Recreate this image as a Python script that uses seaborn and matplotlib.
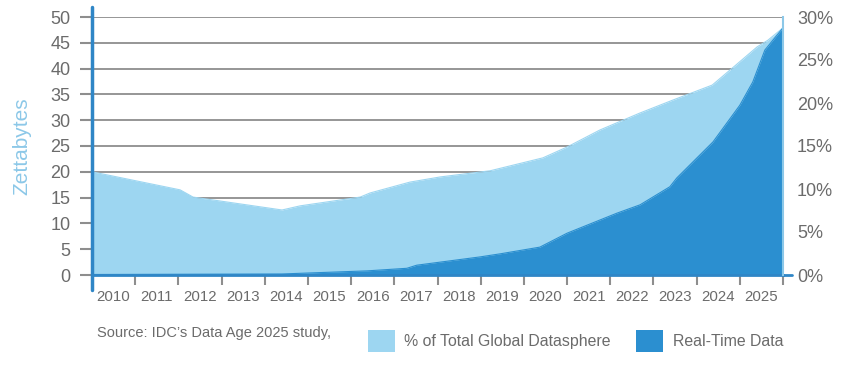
import numpy as np
import pandas as pd
import matplotlib
matplotlib.use("Agg")
import matplotlib.pyplot as plt
import seaborn as sns
from matplotlib.patches import Patch

# values (x in years, bins centred on each year)
share_years = [2009.5, 2011.54, 2011.84, 2013.9, 2014.32, 2015.71, 2015.94, 2016.86, 2017.56,
               2018.72, 2019.94, 2020.5, 2021.26, 2022.19, 2022.95, 2023.86, 2024.27, 2024.9,
               2025.15, 2025.5]
share_zb = [20.0, 16.5, 15.1, 12.6, 13.4, 15.1, 15.9, 18.0, 19.0,
            20.2, 22.7, 24.8, 28.1, 31.4, 33.9, 36.8, 39.7, 44.2,
            45.5, 47.9]

rt_years = [2009.5, 2013.9, 2015.87, 2016.79, 2017.02, 2018.48, 2018.95, 2019.87, 2020.5,
            2021.66, 2022.19, 2022.88, 2023.04, 2023.88, 2024.5, 2024.8, 2025.08, 2025.5]
rt_zb = [0.1, 0.2, 0.8, 1.3, 1.9, 3.5, 4.1, 5.4, 8.1,
         12.0, 13.6, 17.1, 18.8, 25.8, 32.9, 37.4, 43.6, 47.9]

year_labels = list(range(2010, 2026))
left_ticks = list(range(0, 51, 5))
right_ticks = list(range(0, 31, 5))

light = "#9dd6f1"
dark = "#2b8fd0"
axis_blue = "#2f86c6"
grey_txt = "#6b6b6b"

share = pd.DataFrame({"year": share_years, "zb": share_zb})
rt = pd.DataFrame({"year": rt_years, "zb": rt_zb})

sns.set_style("white")
plt.rcParams["font.family"] = ["Liberation Sans", "DejaVu Sans"]

fig = plt.figure(figsize=(8.5, 3.66), dpi=100)
ax = fig.add_axes([92 / 850, 1 - 275 / 366, (783 - 92) / 850, (275 - 17) / 366])

for y in left_ticks[1:]:
    ax.axhline(y, color="#8e8e8e", lw=1.3, zorder=0)

ax.fill_between(share["year"], share["zb"], color=light, lw=0, zorder=1)
ax.fill_between(rt["year"], rt["zb"], color=dark, lw=0, zorder=2)
sns.lineplot(data=share, x="year", y="zb", color=light, lw=0.8, ax=ax, zorder=1)
sns.lineplot(data=rt, x="year", y="zb", color=dark, lw=0.8, ax=ax, zorder=2)

ax.set_xlim(2009.5, 2025.5)
ax.set_ylim(0, 50)
ax.set_xlabel("")
ax.set_ylabel("Zettabytes", color="#8cc8e8", fontsize=15, labelpad=14)

ax.set_yticks(left_ticks)
ax.set_yticklabels([str(t) for t in left_ticks])
ax.tick_params(axis="y", which="major", length=8.5, width=1.5, color="#8e8e8e",
               labelcolor=grey_txt, labelsize=13, pad=7, left=True)
ax.set_xticks(year_labels)
ax.set_xticklabels([str(y) for y in year_labels])
ax.set_xticks(np.arange(2010.5, 2026, 1.0), minor=True)
ax.tick_params(axis="x", which="major", length=0, labelcolor=grey_txt, labelsize=10.8, pad=11)
ax.tick_params(axis="x", which="minor", length=7, width=1.5, color="#8e8e8e", bottom=True)

for side in ["top", "right", "left"]:
    ax.spines[side].set_visible(False)
ax.spines["bottom"].set_color(axis_blue)
ax.spines["bottom"].set_linewidth(2)
ax.spines["bottom"].set_zorder(5)
ax.plot([0, 0], [-0.06, 1.04], transform=ax.transAxes, color=axis_blue, lw=2.5,
        clip_on=False, zorder=6)

ax2 = ax.twinx()
ax2.set_ylim(0, 30)
ax2.set_yticks(right_ticks)
ax2.set_yticklabels([f"{t}%" for t in right_ticks])
ax2.tick_params(axis="y", length=0, labelcolor=grey_txt, labelsize=13, pad=10)
for side in ["top", "left", "bottom"]:
    ax2.spines[side].set_visible(False)
ax2.spines["right"].set_color("#8cc8e8")
ax2.spines["right"].set_linewidth(1.5)
ax2.plot([1, 1.013], [0, 0], transform=ax2.transAxes, color=axis_blue, lw=2, clip_on=False)
ax2.grid(False)

fig.text(97 / 850, 1 - 333 / 366, "Source: IDC\u2019s Data Age 2025 study,", color=grey_txt,
         fontsize=10.5, va="center", ha="left")
handles = [Patch(facecolor=light, edgecolor="none"), Patch(facecolor=dark, edgecolor="none")]
fig.legend(handles, ["% of Total Global Datasphere", "Real-Time Data"], ncol=2, frameon=False,
           loc="center left", bbox_to_anchor=(368 / 850, 1 - 341 / 366), fontsize=11.4,
           handlelength=1.7, handleheight=1.7, handletextpad=0.6, columnspacing=1.6,
           borderpad=0, borderaxespad=0, labelcolor=grey_txt)

fig.savefig("out.png", dpi=100)
